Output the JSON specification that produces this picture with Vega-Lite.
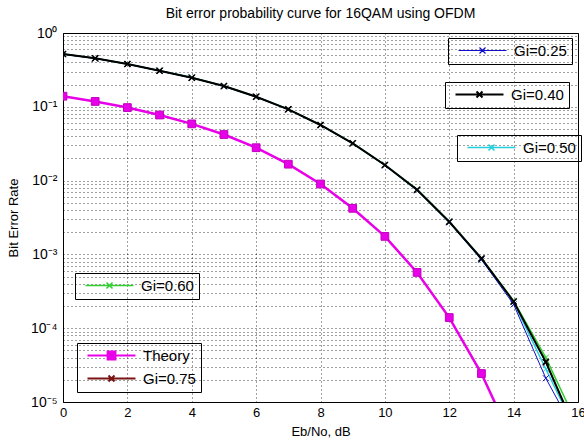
{
  "$schema": "https://vega.github.io/schema/vega-lite/v6.json",
  "width": 515,
  "height": 369,
  "autosize": {"type": "none"},
  "padding": {"left": 63, "top": 33, "right": 6, "bottom": 40},
  "background": "#ffffff",
  "title": {"text": "Bit error probability curve for 16QAM using OFDM", "font": "Liberation Sans", "fontSize": 14, "fontWeight": "normal", "color": "#000000", "anchor": "middle", "frame": "group", "baseline": "alphabetic", "offset": -6},
  "data": {"values": [
    {"x": 0, "ber": 0.517, "series": "Gi=0.25"}, {"x": 1, "ber": 0.452, "series": "Gi=0.25"}, {"x": 2, "ber": 0.379, "series": "Gi=0.25"}, {"x": 3, "ber": 0.307, "series": "Gi=0.25"}, {"x": 4, "ber": 0.247, "series": "Gi=0.25"}, {"x": 5, "ber": 0.19, "series": "Gi=0.25"}, {"x": 6, "ber": 0.136, "series": "Gi=0.25"}, {"x": 7, "ber": 0.092, "series": "Gi=0.25"}, {"x": 8, "ber": 0.0563, "series": "Gi=0.25"}, {"x": 9, "ber": 0.0318, "series": "Gi=0.25"}, {"x": 10, "ber": 0.0161, "series": "Gi=0.25"}, {"x": 11, "ber": 0.0074, "series": "Gi=0.25"}, {"x": 12, "ber": 0.00272, "series": "Gi=0.25"}, {"x": 13, "ber": 0.00085, "series": "Gi=0.25"}, {"x": 14, "ber": 0.00021, "series": "Gi=0.25"}, {"x": 15, "ber": 0.000021, "series": "Gi=0.25"}, {"x": 16, "ber": 0.0000033, "series": "Gi=0.25"},
    {"x": 0, "ber": 0.519, "series": "Gi=0.40"}, {"x": 1, "ber": 0.454, "series": "Gi=0.40"}, {"x": 2, "ber": 0.38, "series": "Gi=0.40"}, {"x": 3, "ber": 0.308, "series": "Gi=0.40"}, {"x": 4, "ber": 0.248, "series": "Gi=0.40"}, {"x": 5, "ber": 0.191, "series": "Gi=0.40"}, {"x": 6, "ber": 0.137, "series": "Gi=0.40"}, {"x": 7, "ber": 0.0925, "series": "Gi=0.40"}, {"x": 8, "ber": 0.0567, "series": "Gi=0.40"}, {"x": 9, "ber": 0.032, "series": "Gi=0.40"}, {"x": 10, "ber": 0.0163, "series": "Gi=0.40"}, {"x": 11, "ber": 0.0075, "series": "Gi=0.40"}, {"x": 12, "ber": 0.00277, "series": "Gi=0.40"}, {"x": 13, "ber": 0.00088, "series": "Gi=0.40"}, {"x": 14, "ber": 0.00023, "series": "Gi=0.40"}, {"x": 15, "ber": 0.000035, "series": "Gi=0.40"}, {"x": 16, "ber": 0.0000035, "series": "Gi=0.40"},
    {"x": 0, "ber": 0.518, "series": "Gi=0.50"}, {"x": 1, "ber": 0.453, "series": "Gi=0.50"}, {"x": 2, "ber": 0.381, "series": "Gi=0.50"}, {"x": 3, "ber": 0.309, "series": "Gi=0.50"}, {"x": 4, "ber": 0.249, "series": "Gi=0.50"}, {"x": 5, "ber": 0.19, "series": "Gi=0.50"}, {"x": 6, "ber": 0.1365, "series": "Gi=0.50"}, {"x": 7, "ber": 0.0922, "series": "Gi=0.50"}, {"x": 8, "ber": 0.0565, "series": "Gi=0.50"}, {"x": 9, "ber": 0.0319, "series": "Gi=0.50"}, {"x": 10, "ber": 0.0162, "series": "Gi=0.50"}, {"x": 11, "ber": 0.00745, "series": "Gi=0.50"}, {"x": 12, "ber": 0.00274, "series": "Gi=0.50"}, {"x": 13, "ber": 0.00086, "series": "Gi=0.50"}, {"x": 14, "ber": 0.000225, "series": "Gi=0.50"}, {"x": 15, "ber": 0.000028, "series": "Gi=0.50"}, {"x": 16, "ber": 0.0000036, "series": "Gi=0.50"},
    {"x": 0, "ber": 0.52, "series": "Gi=0.60"}, {"x": 1, "ber": 0.455, "series": "Gi=0.60"}, {"x": 2, "ber": 0.381, "series": "Gi=0.60"}, {"x": 3, "ber": 0.309, "series": "Gi=0.60"}, {"x": 4, "ber": 0.249, "series": "Gi=0.60"}, {"x": 5, "ber": 0.192, "series": "Gi=0.60"}, {"x": 6, "ber": 0.1375, "series": "Gi=0.60"}, {"x": 7, "ber": 0.093, "series": "Gi=0.60"}, {"x": 8, "ber": 0.057, "series": "Gi=0.60"}, {"x": 9, "ber": 0.0322, "series": "Gi=0.60"}, {"x": 10, "ber": 0.0164, "series": "Gi=0.60"}, {"x": 11, "ber": 0.0076, "series": "Gi=0.60"}, {"x": 12, "ber": 0.0028, "series": "Gi=0.60"}, {"x": 13, "ber": 0.00089, "series": "Gi=0.60"}, {"x": 14, "ber": 0.000235, "series": "Gi=0.60"}, {"x": 15, "ber": 0.00004, "series": "Gi=0.60"}, {"x": 16, "ber": 0.0000047, "series": "Gi=0.60"},
    {"x": 0, "ber": 0.519, "series": "Gi=0.75"}, {"x": 1, "ber": 0.454, "series": "Gi=0.75"}, {"x": 2, "ber": 0.38, "series": "Gi=0.75"}, {"x": 3, "ber": 0.308, "series": "Gi=0.75"}, {"x": 4, "ber": 0.248, "series": "Gi=0.75"}, {"x": 5, "ber": 0.191, "series": "Gi=0.75"}, {"x": 6, "ber": 0.137, "series": "Gi=0.75"}, {"x": 7, "ber": 0.0925, "series": "Gi=0.75"}, {"x": 8, "ber": 0.0567, "series": "Gi=0.75"}, {"x": 9, "ber": 0.032, "series": "Gi=0.75"}, {"x": 10, "ber": 0.0163, "series": "Gi=0.75"}, {"x": 11, "ber": 0.0075, "series": "Gi=0.75"}, {"x": 12, "ber": 0.00277, "series": "Gi=0.75"}, {"x": 13, "ber": 0.00088, "series": "Gi=0.75"}, {"x": 14, "ber": 0.00023, "series": "Gi=0.75"}, {"x": 15, "ber": 0.000034, "series": "Gi=0.75"}, {"x": 16, "ber": 0.0000034, "series": "Gi=0.75"},
    {"x": 0, "ber": 0.1392, "series": "Theory"}, {"x": 1, "ber": 0.1182, "series": "Theory"}, {"x": 2, "ber": 0.0976, "series": "Theory"}, {"x": 3, "ber": 0.0774, "series": "Theory"}, {"x": 4, "ber": 0.0587, "series": "Theory"}, {"x": 5, "ber": 0.0421, "series": "Theory"}, {"x": 6, "ber": 0.0279, "series": "Theory"}, {"x": 7, "ber": 0.0167, "series": "Theory"}, {"x": 8, "ber": 0.009, "series": "Theory"}, {"x": 9, "ber": 0.00421, "series": "Theory"}, {"x": 10, "ber": 0.001754, "series": "Theory"}, {"x": 11, "ber": 0.00057, "series": "Theory"}, {"x": 12, "ber": 0.0001394, "series": "Theory"}, {"x": 13, "ber": 0.0000243, "series": "Theory"}, {"x": 14, "ber": 0.00000277, "series": "Theory"}
  ]},
  "encoding": {
    "x": {"field": "x", "type": "quantitative", "scale": {"domain": [0, 16], "nice": false, "zero": false},
      "axis": {"values": [0, 2, 4, 6, 8, 10, 12, 14, 16], "title": "Eb/No, dB", "labelPadding": 4, "titlePadding": 6, "labelFlush": false}},
    "y": {"field": "ber", "type": "quantitative", "scale": {"type": "log", "domain": [0.00001, 1], "nice": false},
      "axis": {"values": [1e-5, 2e-5, 3e-5, 4e-5, 5e-5, 6e-5, 7e-5, 8e-5, 9e-5, 1e-4, 2e-4, 3e-4, 4e-4, 5e-4, 6e-4, 7e-4, 8e-4, 9e-4, 1e-3, 2e-3, 3e-3, 4e-3, 5e-3, 6e-3, 7e-3, 8e-3, 9e-3, 0.01, 0.02, 0.03, 0.04, 0.05, 0.06, 0.07, 0.08, 0.09, 0.1, 0.2, 0.3, 0.4, 0.5, 0.6, 0.7, 0.8, 0.9, 1],
        "labelExpr": "abs(log(datum.value)/LN10 - round(log(datum.value)/LN10)) < 0.001 ? ['10⁰','10⁻¹','10⁻²','10⁻³','10⁻⁴','10⁻⁵'][abs(round(log(datum.value)/LN10))] : ''",
        "labelOverlap": false, "labelBound": false, "labelFontSize": 14, "title": "Bit Error Rate", "labelPadding": 6, "titlePadding": 10}}
  },
  "layer": [
    {
      "transform": [{"filter": "datum.series === 'Gi=0.60'"}],
      "mark": {"type": "line", "clip": true, "strokeWidth": 1.5, "point": {"shape": "M-1,-1L1,1M-1,1L1,-1", "filled": false, "size": 36, "strokeWidth": 1, "clip": true}},
      "encoding": {"color": {"field": "series", "type": "nominal", "scale": {"domain": ["Gi=0.60"], "range": ["#2fd02f"]},
        "legend": {"orient": "none", "legendX": 12, "legendY": 240, "title": null,
          "encode": {"symbols": {"update": {"shape": {"value": "M-8,0H8M-1,-1L1,1M-1,1L1,-1"}, "stroke": {"value": "#2fd02f"}, "fill": {"value": "transparent"}, "strokeWidth": {"value": 1.5}}}}}}}
    },
    {
      "transform": [{"filter": "datum.series === 'Gi=0.50'"}],
      "mark": {"type": "line", "clip": true, "strokeWidth": 1.5, "point": {"shape": "M-1,-1L1,1M-1,1L1,-1", "filled": false, "size": 36, "strokeWidth": 1, "clip": true}},
      "encoding": {"color": {"field": "series", "type": "nominal", "scale": {"domain": ["Gi=0.50"], "range": ["#22cfe0"]},
        "legend": {"orient": "none", "legendX": 394, "legendY": 102, "title": null,
          "encode": {"symbols": {"update": {"shape": {"value": "M-8,0H8M-1,-1L1,1M-1,1L1,-1"}, "stroke": {"value": "#22cfe0"}, "fill": {"value": "transparent"}, "strokeWidth": {"value": 1.5}}}}}}}
    },
    {
      "transform": [{"filter": "datum.series === 'Gi=0.25'"}],
      "mark": {"type": "line", "clip": true, "strokeWidth": 1, "point": {"shape": "M-1,-1L1,1M-1,1L1,-1", "filled": false, "size": 36, "strokeWidth": 1, "clip": true}},
      "encoding": {"color": {"field": "series", "type": "nominal", "scale": {"domain": ["Gi=0.25"], "range": ["#1010c8"]},
        "legend": {"orient": "none", "legendX": 385, "legendY": 5, "title": null,
          "encode": {"symbols": {"update": {"shape": {"value": "M-8,0H8M-1,-1L1,1M-1,1L1,-1"}, "stroke": {"value": "#1010c8"}, "fill": {"value": "transparent"}, "strokeWidth": {"value": 1.2}}}}}}}
    },
    {
      "layer": [
        {
          "transform": [{"filter": "datum.series === 'Gi=0.75'"}],
          "mark": {"type": "line", "clip": true, "strokeWidth": 1, "point": {"shape": "M-1,-1L1,1M-1,1L1,-1", "filled": false, "size": 36, "strokeWidth": 1, "clip": true}}
        },
        {
          "transform": [{"filter": "datum.series === 'Theory'"}],
          "mark": {"type": "line", "clip": true, "strokeWidth": 2.5, "point": {"shape": "square", "filled": true, "size": 60, "stroke": "#c000c0", "strokeWidth": 1, "clip": true}}
        }
      ],
      "encoding": {"color": {"field": "series", "type": "nominal", "scale": {"domain": ["Theory", "Gi=0.75"], "range": ["#e800e8", "#7a1414"]},
        "legend": {"orient": "none", "legendX": 14, "legendY": 310, "title": null, "rowPadding": 7,
          "encode": {"symbols": {"update": {
            "shape": {"signal": "datum.value === 'Theory' ? 'M-8,0H8M-1.3,-1.3H1.3V1.3H-1.3Z' : 'M-8,0H8M-1,-1L1,1M-1,1L1,-1'"},
            "stroke": {"signal": "datum.value === 'Theory' ? '#e800e8' : '#5a1414'"},
            "fill": {"signal": "datum.value === 'Theory' ? '#ff33ff' : 'transparent'"},
            "strokeWidth": {"value": 2}}}}}}}
    },
    {
      "transform": [{"filter": "datum.series === 'Gi=0.40'"}],
      "mark": {"type": "line", "clip": true, "strokeWidth": 2, "point": {"shape": "M-1,-1L1,1M-1,1L1,-1", "filled": false, "size": 36, "strokeWidth": 1.5, "clip": true}},
      "encoding": {"color": {"field": "series", "type": "nominal", "scale": {"domain": ["Gi=0.40"], "range": ["#000000"]},
        "legend": {"orient": "none", "legendX": 382, "legendY": 49, "title": null,
          "encode": {"symbols": {"update": {"shape": {"value": "M-8,0H8M-1,-1L1,1M-1,1L1,-1"}, "stroke": {"value": "#000000"}, "fill": {"value": "transparent"}, "strokeWidth": {"value": 2}}}}}}}
    }
  ],
  "resolve": {"scale": {"color": "independent"}, "legend": {"color": "independent"}},
  "config": {
    "font": "Liberation Sans",
    "view": {"stroke": "#000000", "strokeWidth": 1},
    "axis": {"labelFont": "Liberation Sans", "labelFontSize": 13, "labelColor": "#000000", "titleFont": "Liberation Sans", "titleFontSize": 13, "titleFontWeight": "normal", "titleColor": "#000000",
      "grid": true, "gridColor": "#000000", "gridDash": [1, 3], "gridOpacity": 0.75, "gridWidth": 1, "ticks": false, "domain": false},
    "legend": {"strokeColor": "#000000", "padding": 5, "labelFont": "Liberation Sans", "labelFontSize": 15, "labelColor": "#000000", "symbolSize": 36, "symbolOffset": 22, "labelOffset": 24, "symbolStrokeWidth": 1.5}
  }
}
